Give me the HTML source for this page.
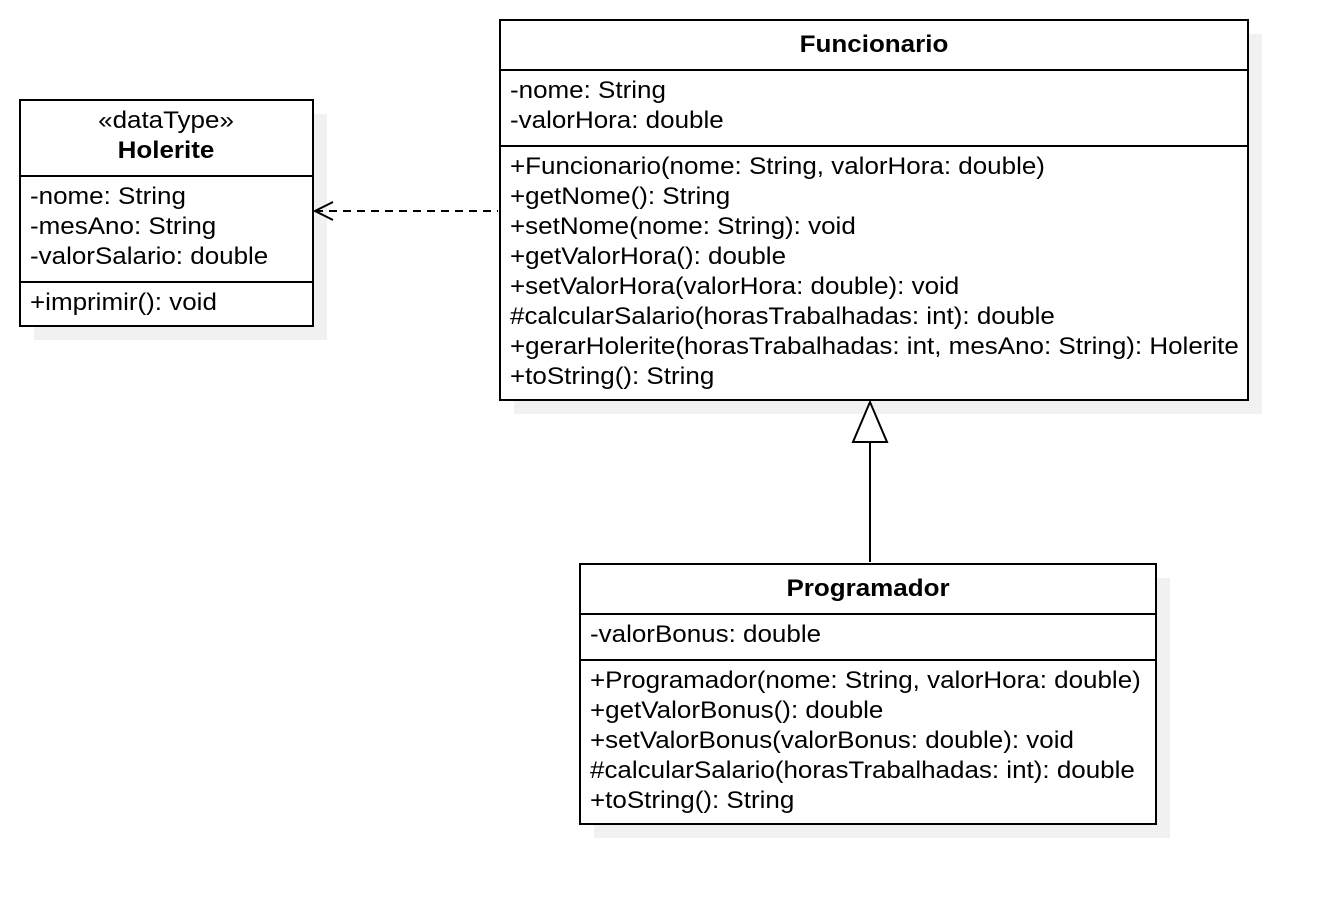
<!DOCTYPE html>
<html><head><meta charset="utf-8"><style>
html,body{margin:0;padding:0;background:#fff;}
svg text{font-family:"Liberation Sans",Arial,sans-serif;font-size:24px;fill:#000;}
.b{font-weight:bold;}
</style></head><body>
<svg width="1326" height="904" viewBox="0 0 1326 904" xmlns="http://www.w3.org/2000/svg">
<g fill="#f1f1f1">
<rect x="34" y="114" width="293" height="226"/>
<rect x="514" y="34" width="748" height="380"/>
<rect x="594" y="578" width="576" height="260"/>
</g>
<g fill="#fff" stroke="#000" stroke-width="2">
<rect x="20" y="100" width="293" height="226"/>
<line x1="20" y1="176" x2="313" y2="176"/>
<line x1="20" y1="282" x2="313" y2="282"/>
<rect x="500" y="20" width="748" height="380"/>
<line x1="500" y1="70" x2="1248" y2="70"/>
<line x1="500" y1="146" x2="1248" y2="146"/>
<rect x="580" y="564" width="576" height="260"/>
<line x1="580" y1="614" x2="1156" y2="614"/>
<line x1="580" y1="660" x2="1156" y2="660"/>
</g>
<line x1="315" y1="211" x2="498" y2="211" stroke="#000" stroke-width="2" stroke-dasharray="8,6"/>
<polyline points="333,202 315,211 333,220" fill="none" stroke="#000" stroke-width="2"/>
<line x1="870" y1="442" x2="870" y2="562" stroke="#000" stroke-width="2"/>
<polygon points="870,402 853,442 887,442" fill="#fff" stroke="#000" stroke-width="2"/>
<g transform="translate(166,0) scale(1.083,1)">
<text x="0" y="128" text-anchor="middle">«dataType»</text>
<text x="0" y="158" text-anchor="middle" class="b">Holerite</text>
</g>
<g transform="translate(30,0) scale(1.083,1)">
<text x="0" y="204">-nome: String</text>
<text x="0" y="234">-mesAno: String</text>
<text x="0" y="264">-valorSalario: double</text>
<text x="0" y="310">+imprimir(): void</text>
</g>
<g transform="translate(874,0) scale(1.083,1)">
<text x="0" y="52" text-anchor="middle" class="b">Funcionario</text>
</g>
<g transform="translate(510,0) scale(1.083,1)">
<text x="0" y="98">-nome: String</text>
<text x="0" y="128">-valorHora: double</text>
<text x="0" y="174">+Funcionario(nome: String, valorHora: double)</text>
<text x="0" y="204">+getNome(): String</text>
<text x="0" y="234">+setNome(nome: String): void</text>
<text x="0" y="264">+getValorHora(): double</text>
<text x="0" y="294">+setValorHora(valorHora: double): void</text>
<text x="0" y="324">#calcularSalario(horasTrabalhadas: int): double</text>
<text x="0" y="354">+gerarHolerite(horasTrabalhadas: int, mesAno: String): Holerite</text>
<text x="0" y="384">+toString(): String</text>
</g>
<g transform="translate(868,0) scale(1.083,1)">
<text x="0" y="596" text-anchor="middle" class="b">Programador</text>
</g>
<g transform="translate(590,0) scale(1.083,1)">
<text x="0" y="642">-valorBonus: double</text>
<text x="0" y="688">+Programador(nome: String, valorHora: double)</text>
<text x="0" y="718">+getValorBonus(): double</text>
<text x="0" y="748">+setValorBonus(valorBonus: double): void</text>
<text x="0" y="778">#calcularSalario(horasTrabalhadas: int): double</text>
<text x="0" y="808">+toString(): String</text>
</g>
</svg>
</body></html>
